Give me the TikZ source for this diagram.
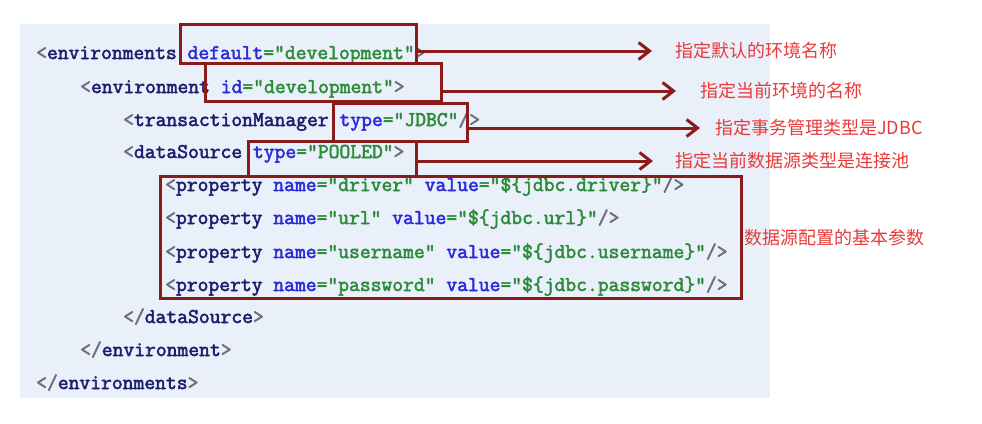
\documentclass[tikz,border=0pt]{standalone}
\usepackage{fontspec}
\newfontfamily\cjk{Noto Sans CJK SC}
\newfontfamily\codefont{Latin Modern Mono}[FakeBold=2.5]
\usepackage{tikz}
\usetikzlibrary{arrows.meta}

\definecolor{tagc}{HTML}{1E1E6E}
\definecolor{attrc}{HTML}{2B2BD9}
\definecolor{valc}{HTML}{2E8B3A}
\definecolor{punc}{HTML}{6E6E80}
\definecolor{boxred}{HTML}{8B1A1A}
\definecolor{labred}{HTML}{E83A3A}
\definecolor{bgblue}{HTML}{E9F0FA}

\newcommand{\xtag}[1]{\textcolor{tagc}{#1}}
\newcommand{\xattr}[1]{\textcolor{attrc}{#1}}
\newcommand{\xval}[1]{\textcolor{valc}{#1}}
\newcommand{\xpun}[1]{\textcolor{punc}{#1}}

\begin{document}
\begin{tikzpicture}[x=1pt,y=-1pt]
	\tikzset{code/.style={anchor=base west, inner sep=0pt, font=\fontsize{21}{24}\selectfont\codefont}}
	\tikzset{note/.style={anchor=west, inner sep=0pt, text=labred, font=\fontsize{18}{20}\selectfont\cjk}}
	\tikzset{hlbox/.style={draw=boxred, line width=3pt, inner sep=0pt}}
	\tikzset{pointer/.style={draw=boxred, line width=3pt, -{Straight Barb[length=11pt,width=17pt]}}}
	\useasboundingbox (0,0) rectangle (982,423);
	\fill[white] (0,0) rectangle (982,423);
	\fill[bgblue] (20,24) rectangle (770,398);
	%code lines
	\node[code] (l1) at (36,59) {\xpun{<}\xtag{environments} \xattr{default}\xval{="development"}\xpun{>}};
	\node[code] (l2) at (80,93) {\xpun{<}\xtag{environment} \xattr{id}\xval{="development"}\xpun{>}};
	\node[code] (l3) at (123,126) {\xpun{<}\xtag{transactionManager} \xattr{type}\xval{="JDBC"}\xpun{/>}};
	\node[code] (l4) at (123,158) {\xpun{<}\xtag{dataSource} \xattr{type}\xval{="POOLED"}\xpun{>}};
	\node[code] (l5) at (165,191) {\xpun{<}\xtag{property} \xattr{name}\xval{="driver"} \xattr{value}\xval{="\$\{jdbc.driver\}"}\xpun{/>}};
	\node[code] (l6) at (165,224) {\xpun{<}\xtag{property} \xattr{name}\xval{="url"} \xattr{value}\xval{="\$\{jdbc.url\}"}\xpun{/>}};
	\node[code] (l7) at (165,258) {\xpun{<}\xtag{property} \xattr{name}\xval{="username"} \xattr{value}\xval{="\$\{jdbc.username\}"}\xpun{/>}};
	\node[code] (l8) at (165,291) {\xpun{<}\xtag{property} \xattr{name}\xval{="password"} \xattr{value}\xval{="\$\{jdbc.password\}"}\xpun{/>}};
	\node[code] (l9) at (123,323) {\xpun{</}\xtag{dataSource}\xpun{>}};
	\node[code] (l10) at (80,356) {\xpun{</}\xtag{environment}\xpun{>}};
	\node[code] (l11) at (36,389) {\xpun{</}\xtag{environments}\xpun{>}};
	%boxes
	\node[hlbox, minimum width=236, minimum height=39] (def) at (298,43.5) {};
	\node[hlbox, minimum width=236, minimum height=38] (envid) at (323,82) {};
	\node[hlbox, minimum width=134, minimum height=38] (tmtype) at (400,122) {};
	\node[hlbox, minimum width=168, minimum height=35] (dstype) at (332,158.5) {};
	\node[hlbox, minimum width=581, minimum height=122] (props) at (450.5,237) {};
	%notes
	\node[note] (n1) at (675,51) {指定默认的环境名称};
	\node[note] (n2) at (700,91) {指定当前环境的名称};
	\node[note] (n3) at (715,128) {指定事务管理类型是JDBC};
	\node[note] (n4) at (675,161) {指定当前数据源类型是连接池};
	\node[note] (n5) at (744,238) {数据源配置的基本参数};
	%arrows
	\draw[pointer] (def.east |- n1.west) -- ([xshift=-23]n1.west);
	\draw[pointer] (envid.east |- n2.west) -- ([xshift=-24]n2.west);
	\draw[pointer] (tmtype.east |- n3.west) -- ([xshift=-15]n3.west);
	\draw[pointer] (dstype.east |- n4.west) -- ([xshift=-22]n4.west);
\end{tikzpicture}
\end{document}
